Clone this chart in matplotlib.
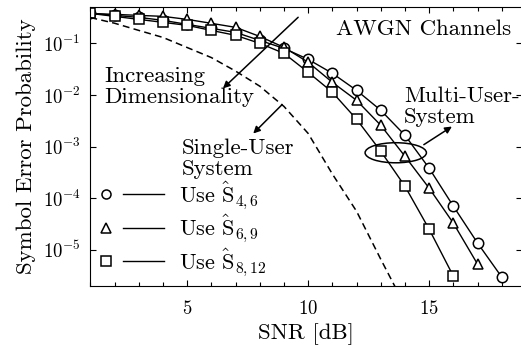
import numpy as np
import matplotlib
matplotlib.use("Agg")
import matplotlib.pyplot as plt
from matplotlib.lines import Line2D
from matplotlib.legend_handler import HandlerBase
from matplotlib.patches import Ellipse
from matplotlib.ticker import FixedLocator, MultipleLocator, NullLocator, LogLocator

plt.rcParams['font.family'] = 'serif'
plt.rcParams['font.serif'] = ['cmr10', 'DejaVu Serif']
plt.rcParams['mathtext.fontset'] = 'cm'
plt.rcParams['axes.formatter.use_mathtext'] = True
plt.rcParams['axes.unicode_minus'] = False

# ---- data ----
snr_s46 = [1, 2, 3, 4, 5, 6, 7, 8, 9, 10, 11, 12, 13, 14, 15, 16, 17, 18]
pe_s46 = [0.380, 0.348, 0.318, 0.279, 0.233, 0.195, 0.163, 0.114, 0.080, 0.049,
          0.0263, 0.0123, 0.00506, 0.00166, 3.82e-4, 7.03e-5, 1.36e-5, 2.98e-6]

snr_s69 = [1, 2, 3, 4, 5, 6, 7, 8, 9, 10, 11, 12, 13, 14, 15, 16, 17]
pe_s69 = [0.38, 0.364, 0.348, 0.333, 0.291, 0.244, 0.204, 0.136, 0.0837, 0.043,
          0.0176, 0.00788, 0.00259, 6.5e-4, 1.57e-4, 3.3e-5, 5.3e-6]

snr_s812 = [1, 2, 3, 4, 5, 6, 7, 8, 9, 10, 11, 12, 13, 14, 15, 16]
pe_s812 = [0.38, 0.333, 0.291, 0.255, 0.223, 0.178, 0.143, 0.10, 0.064, 0.0275,
           0.0113, 0.00339, 8.15e-4, 1.71e-4, 2.52e-5, 3.11e-6]

snr_single = [1, 2, 3, 4, 5, 6, 7, 8, 9, 10, 11, 12, 13, 13.6]
pe_single = [0.316, 0.245, 0.178, 0.13, 0.083, 0.053, 0.029, 0.0148, 0.006,
             0.0018, 2.95e-4, 5.6e-5, 6.6e-6, 1.9e-6]

legend_labels = [r'Use ${\hat{\mathrm{S}\!\!}\,\,}_{4,6}$', r'Use ${\hat{\mathrm{S}\!\!}\,\,}_{6,9}$',
                 r'Use ${\hat{\mathrm{S}\!\!}\,\,}_{8,12}$']
x_major = [5, 10, 15]

# ---- figure ----
fig = plt.figure(figsize=(5.21, 3.45), dpi=100)
ax = fig.add_axes([0.1735, 0.171, 0.829, 0.808])

mk = dict(color='k', lw=1.0, mfc='white', mec='k', mew=1.1, ms=7.5)
ax.plot(snr_s46, pe_s46, marker='o', **mk)
ax.plot(snr_s69, pe_s69, marker='^', **mk)
ax.plot(snr_s812, pe_s812, marker='s', **mk)
ax.plot(snr_single, pe_single, color='k', lw=1.1, ls=(0, (4.5, 2.8)))

ax.set_yscale('log')
ax.set_xlim(1, 18.85)
ax.set_ylim(2e-6, 0.5)
ax.xaxis.set_major_locator(FixedLocator(x_major))
ax.xaxis.set_minor_locator(MultipleLocator(1))
ax.yaxis.set_major_locator(LogLocator(base=10, numticks=20))
ax.yaxis.set_minor_locator(NullLocator())
ax.tick_params(which='both', direction='in', top=True, right=True, labelsize=13.5)
ax.tick_params(which='major', length=4.5, width=0.8)
ax.tick_params(which='minor', length=2.8, width=0.8)
ax.tick_params(axis='x', pad=10)
ax.tick_params(axis='y', pad=7)
for s in ax.spines.values():
    s.set_linewidth(0.8)

ax.set_xlabel('SNR [dB]', fontsize=16.5, labelpad=4)
ax.set_ylabel('Symbol Error Probability', fontsize=16.5, labelpad=5)

fs = 16.5
ls_ = 1.08
ax.text(0.974, 0.921, 'AWGN Channels', transform=ax.transAxes, ha='right', va='center', fontsize=fs)
ax.text(0.033, 0.714, 'Increasing\nDimensionality', transform=ax.transAxes, ha='left', va='center',
        fontsize=fs, linespacing=ls_)
ax.text(0.212, 0.456, 'Single-User\nSystem', transform=ax.transAxes, ha='left', va='center',
        fontsize=fs, linespacing=ls_)
ax.text(0.726, 0.642, 'Multi-User-\nSystem', transform=ax.transAxes, ha='left', va='center',
        fontsize=fs, linespacing=ls_)

ap = dict(arrowstyle='-|>', color='k', lw=1.1, mutation_scale=10, shrinkA=0, shrinkB=0)
ax.annotate('', xy=(0.307, 0.709), xytext=(0.481, 0.964), xycoords='axes fraction', arrowprops=ap)
ax.annotate('', xy=(0.377, 0.547), xytext=(0.444, 0.651), xycoords='axes fraction', arrowprops=ap)
ax.annotate('', xy=(0.837, 0.572), xytext=(0.772, 0.507), xycoords='axes fraction', arrowprops=ap)
ax.add_patch(Ellipse((0.707, 0.478), 0.142, 0.072, transform=ax.transAxes,
                     fill=False, ec='k', lw=1.1))


class MarkerThenLine(HandlerBase):
    def __init__(self, marker):
        super().__init__()
        self.marker = marker

    def create_artists(self, legend, orig_handle, xdescent, ydescent, width, height,
                       fontsize, trans):
        y = height / 2 - ydescent
        m = Line2D([-xdescent + 0.167 * width], [y], marker=self.marker, ls='none',
                   mfc='white', mec='k', mew=1.1, ms=6.5)
        ln = Line2D([-xdescent + 0.417 * width, -xdescent + width], [y, y], color='k', lw=1.0)
        m.set_transform(trans)
        ln.set_transform(trans)
        return [m, ln]


handles = [Line2D([], []) for _ in range(3)]
hmap = {handles[0]: MarkerThenLine('o'), handles[1]: MarkerThenLine('^'),
        handles[2]: MarkerThenLine('s')}
ax.legend(handles, legend_labels, handler_map=hmap, loc='lower left',
          bbox_to_anchor=(0.009, 0.03), borderaxespad=0, borderpad=0, frameon=False,
          fontsize=16, handlelength=3.14, handletextpad=0.65, labelspacing=0.08)

fig.savefig('out.png', dpi=100)
